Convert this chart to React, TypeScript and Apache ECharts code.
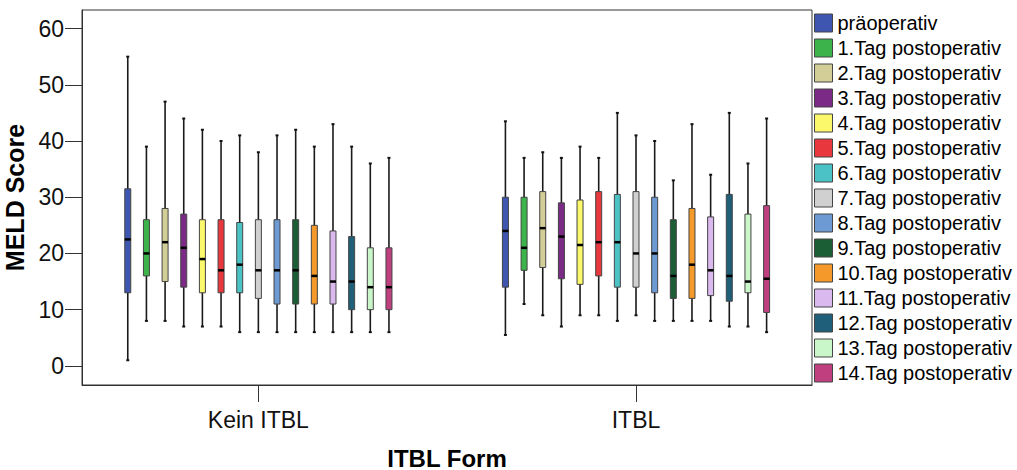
import React, { useEffect, useRef } from "react";
import * as echarts from "echarts";

const groups = ["Kein ITBL", "ITBL"];

const seriesNames = [
  "präoperativ",
  "1.Tag postoperativ",
  "2.Tag postoperativ",
  "3.Tag postoperativ",
  "4.Tag postoperativ",
  "5.Tag postoperativ",
  "6.Tag postoperativ",
  "7.Tag postoperativ",
  "8.Tag postoperativ",
  "9.Tag postoperativ",
  "10.Tag postoperativ",
  "11.Tag postoperativ",
  "12.Tag postoperativ",
  "13.Tag postoperativ",
  "14.Tag postoperativ",
];

const seriesColors = [
  "#3f56b0", "#3cb44b", "#d3ce97", "#7b2a86", "#fbf86b",
  "#e8383d", "#4bc3c6", "#d0d0d0", "#6d9ad2", "#1b5e36",
  "#f4992a", "#dab9ef", "#1f5f7a", "#c9f7c9", "#bf3f7f",
];

// [min, Q1, median, Q3, max] per time point
const keinItblStats = [
  [1, 13, 22.5, 31.5, 55],
  [8, 16, 20, 26, 39],
  [8, 15, 22, 28, 47],
  [7, 14, 21, 27, 44],
  [7, 13, 19, 26, 42],
  [7, 13, 17, 26, 40],
  [6, 13, 18, 25.5, 41],
  [6, 12, 17, 26, 38],
  [6, 11, 17, 26, 41],
  [6, 11, 17, 26, 42],
  [6, 11, 16, 25, 39],
  [6, 11, 15, 24, 43],
  [6, 10, 15, 23, 39],
  [6, 10, 14, 21, 36],
  [6, 10, 14, 21, 37],
];

const itblStats = [
  [5.5, 14, 24, 30, 43.5],
  [11, 17, 21, 30, 37],
  [9, 17.5, 24.5, 31, 38],
  [7, 15.5, 23, 29, 37],
  [9, 14.5, 21.5, 29.5, 39],
  [9, 16, 22, 31, 37],
  [8, 14, 22, 30.5, 45],
  [9, 14, 20, 31, 41],
  [8, 13, 20, 30, 40],
  [8, 12, 16, 26, 33],
  [8, 12, 18, 28, 43],
  [8, 12.5, 17, 26.5, 34],
  [7, 11.5, 16, 30.5, 45],
  [7, 13, 15, 27, 36],
  [6, 9.5, 15.5, 28.5, 44],
];

const yTicks = [0, 10, 20, 30, 40, 50, 60];

const FONT = "'Liberation Sans', Arial, sans-serif";
const STEP = 0.0494;

export default function App() {
  const ref = useRef<HTMLDivElement>(null);

  useEffect(() => {
    document.body.style.margin = "0";
    if (!ref.current) return;
    const chart = echarts.init(ref.current, null, { renderer: "svg" });

    const series = seriesNames.map((name, s) => ({
      type: "custom",
      name,
      itemStyle: { color: seriesColors[s] },
      encode: { x: 0, y: [1, 2, 3, 4, 5] },
      data: [
        [0, ...keinItblStats[s]],
        [1, ...itblStats[s]],
      ],
      renderItem: (params: any, api: any) => {
        const g = api.value(0);
        const x = g + (params.seriesIndex - 7) * STEP;
        const pLow = api.coord([x, api.value(1)]);
        const pQ1 = api.coord([x, api.value(2)]);
        const pMed = api.coord([x, api.value(3)]);
        const pQ3 = api.coord([x, api.value(4)]);
        const pHigh = api.coord([x, api.value(5)]);
        const cx = pLow[0];
        const hw = 3;
        return {
          type: "group",
          children: [
            {
              type: "line",
              shape: { x1: cx, y1: pLow[1], x2: cx, y2: pHigh[1] },
              style: { stroke: "#1a1a1a", lineWidth: 1.6 },
            },
            {
              type: "line",
              shape: { x1: cx - 1.5, y1: pLow[1], x2: cx + 1.5, y2: pLow[1] },
              style: { stroke: "#111", lineWidth: 2 },
            },
            {
              type: "line",
              shape: { x1: cx - 1.5, y1: pHigh[1], x2: cx + 1.5, y2: pHigh[1] },
              style: { stroke: "#111", lineWidth: 2 },
            },
            {
              type: "rect",
              shape: { x: cx - hw, y: pQ3[1], width: hw * 2, height: pQ1[1] - pQ3[1] },
              style: { fill: seriesColors[params.seriesIndex], stroke: "#444", lineWidth: 1 },
            },
            {
              type: "line",
              shape: { x1: cx - hw, y1: pMed[1], x2: cx + hw, y2: pMed[1] },
              style: { stroke: "#000", lineWidth: 2.5 },
            },
          ],
        };
      },
    }));

    chart.setOption({
      animation: false,
      textStyle: { fontFamily: FONT },
      grid: {
        left: 82,
        top: 10,
        width: 730,
        height: 375,
        show: true,
        borderColor: "#333",
        borderWidth: 1,
        containLabel: false,
        outerBoundsMode: "none",
      },
      legend: {
        orient: "vertical",
        left: 814,
        top: 13,
        padding: 0,
        itemWidth: 18,
        itemHeight: 18,
        itemGap: 5,
        icon: "rect",
        selectedMode: false,
        itemStyle: { borderColor: "#444", borderWidth: 1 },
        textStyle: { fontFamily: FONT, fontSize: 20, color: "#000", lineHeight: 18 },
        data: seriesNames,
      },
      xAxis: {
        type: "value",
        min: -0.467,
        max: 1.466,
        splitLine: { show: false },
        axisLine: { show: true, onZero: false, lineStyle: { color: "#333", width: 1 } },
        axisTick: {
          show: true,
          length: 17,
          customValues: [0, 1],
          lineStyle: { color: "#333" },
        },
        axisLabel: {
          customValues: [0, 1],
          formatter: (v: number) => groups[Math.round(v)] ?? "",
          fontFamily: FONT,
          fontSize: 23,
          color: "#111",
          margin: 23,
        },
        name: "ITBL Form",
        nameLocation: "middle",
        nameGap: 61,
        nameTextStyle: { fontFamily: FONT, fontSize: 24, fontWeight: "bold", color: "#000" },
      },
      yAxis: {
        type: "value",
        min: -3.4,
        max: 63.3,
        splitLine: { show: false },
        axisLine: { show: true, onZero: false, lineStyle: { color: "#333", width: 1 } },
        axisTick: {
          show: true,
          length: 17,
          customValues: yTicks,
          lineStyle: { color: "#333" },
        },
        axisLabel: {
          customValues: yTicks,
          fontFamily: FONT,
          fontSize: 23,
          color: "#111",
          margin: 18,
        },
        name: "MELD Score",
        nameLocation: "middle",
        nameGap: 44,
        nameTextStyle: { fontFamily: FONT, fontSize: 25, fontWeight: "bold", color: "#000" },
      },
      series,
    });

    return () => chart.dispose();
  }, []);

  return <div ref={ref} style={{ width: 1017, height: 470 }} />;
}
